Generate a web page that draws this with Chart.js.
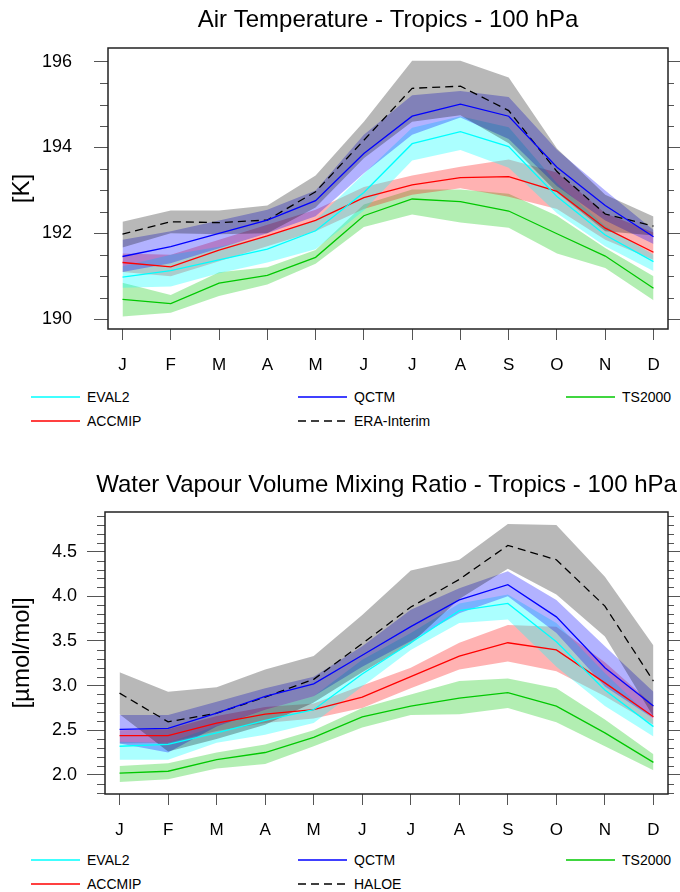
<!DOCTYPE html>
<html>
<head>
<meta charset="utf-8">
<script src="https://cdn.jsdelivr.net/npm/chart.js@4.4.0/dist/chart.umd.min.js"></script>
<style>
  body { margin: 0; background: #fff; width: 680px; height: 892px; position: relative; overflow: hidden;
         font-family: 'Liberation Sans', Arial, sans-serif; }
  canvas { position: absolute; left: 0; }
  .lg { position: absolute; font-size: 14px; line-height: 16px; color: #000; white-space: nowrap; }
  .sw { position: absolute; }
</style>
</head>
<body>
<canvas id="chartT" width="680" height="374" style="top:0"></canvas>
<canvas id="chartW" width="680" height="389" style="top:450px"></canvas>
<div id="legT"></div>
<div id="legW"></div>
<script>
// months / tick labels
var months = ["J", "F", "M", "A", "M", "J", "J", "A", "S", "O", "N", "D"];
var tempTicks = [190, 192, 194, 196];
var h2oTicks = [2.0, 2.5, 3.0, 3.5, 4.0, 4.5];

// Air temperature, 100 hPa [K]
var eval2T    = [190.98, 191.13, 191.38, 191.63, 192.06, 192.95, 194.09, 194.37, 194.02, 192.86, 191.96, 191.34];
var eval2T_hi = [191.23, 191.50, 191.69, 191.92, 192.31, 193.39, 194.46, 194.73, 194.47, 193.17, 192.17, 191.50];
var eval2T_lo = [190.73, 190.76, 191.07, 191.32, 191.63, 192.53, 193.70, 193.94, 193.53, 192.47, 191.70, 191.12];
var qctmT     = [191.46, 191.69, 192.00, 192.31, 192.76, 193.86, 194.73, 195.01, 194.73, 193.54, 192.65, 191.92];
var qctmT_hi  = [191.85, 192.05, 192.30, 192.55, 193.00, 194.30, 195.22, 195.32, 195.18, 193.95, 193.00, 192.08];
var qctmT_lo  = [191.10, 191.30, 191.65, 192.00, 192.40, 193.40, 194.30, 194.70, 194.20, 193.10, 192.30, 191.75];
var tsT       = [190.46, 190.36, 190.84, 191.02, 191.44, 192.41, 192.80, 192.74, 192.52, 191.99, 191.47, 190.72];
var tsT_hi    = [190.85, 190.56, 191.09, 191.21, 191.61, 192.67, 193.02, 193.02, 192.92, 192.41, 191.66, 191.00];
var tsT_lo    = [190.06, 190.15, 190.54, 190.81, 191.29, 192.15, 192.44, 192.25, 192.13, 191.53, 191.19, 190.44];
var accmipT    = [191.32, 191.22, 191.61, 191.94, 192.30, 192.83, 193.13, 193.30, 193.32, 192.98, 192.12, 191.56];
var accmipT_hi = [191.53, 191.50, 191.85, 192.20, 192.55, 193.08, 193.35, 193.55, 193.72, 193.42, 192.47, 192.02];
var accmipT_lo = [191.10, 191.00, 191.35, 191.70, 192.05, 192.57, 192.90, 193.05, 192.85, 192.57, 191.85, 191.38];
var eraT    = [191.98, 192.27, 192.25, 192.31, 192.97, 194.17, 195.38, 195.43, 194.86, 193.44, 192.45, 192.17];
var eraT_hi = [192.27, 192.53, 192.53, 192.65, 193.35, 194.60, 196.02, 196.02, 195.63, 193.98, 192.90, 192.39];
var eraT_lo = [191.67, 192.00, 191.98, 192.00, 192.60, 193.75, 194.60, 194.75, 194.10, 192.95, 192.05, 191.95];

// Water vapour, 100 hPa [umol/mol]
var eval2W    = [2.32, 2.34, 2.47, 2.61, 2.73, 3.13, 3.48, 3.84, 3.92, 3.49, 2.95, 2.54];
var eval2W_hi = [2.37, 2.36, 2.55, 2.73, 2.88, 3.29, 3.59, 3.92, 4.02, 3.70, 3.14, 2.62];
var eval2W_lo = [2.17, 2.17, 2.36, 2.45, 2.58, 2.99, 3.40, 3.70, 3.74, 3.21, 2.77, 2.43];
var qctmW     = [2.51, 2.52, 2.69, 2.88, 3.02, 3.34, 3.66, 3.96, 4.13, 3.77, 3.20, 2.77];
var qctmW_hi  = [2.67, 2.67, 2.82, 2.97, 3.10, 3.44, 3.85, 4.09, 4.28, 3.96, 3.44, 2.93];
var qctmW_lo  = [2.35, 2.25, 2.54, 2.73, 2.88, 3.21, 3.50, 3.81, 4.00, 3.59, 2.99, 2.63];
var tsW       = [2.02, 2.04, 2.17, 2.25, 2.42, 2.65, 2.77, 2.86, 2.92, 2.77, 2.47, 2.14];
var tsW_hi    = [2.10, 2.13, 2.25, 2.34, 2.50, 2.75, 2.90, 3.05, 3.08, 2.97, 2.62, 2.23];
var tsW_lo    = [1.92, 1.95, 2.07, 2.12, 2.32, 2.53, 2.67, 2.68, 2.75, 2.59, 2.32, 2.05];
var accmipW    = [2.44, 2.44, 2.58, 2.68, 2.73, 2.87, 3.10, 3.33, 3.48, 3.40, 3.03, 2.65];
var accmipW_hi = [2.50, 2.51, 2.66, 2.76, 2.80, 3.00, 3.20, 3.48, 3.68, 3.66, 3.26, 2.78];
var accmipW_lo = [2.35, 2.36, 2.49, 2.58, 2.63, 2.75, 2.97, 3.18, 3.27, 3.16, 2.88, 2.56];
var haloeW    = [2.915, 2.594, 2.69, 2.87, 3.07, 3.47, 3.88, 4.19, 4.57, 4.41, 3.89, 3.05];
var haloeW_hi = [3.15, 2.93, 2.98, 3.18, 3.33, 3.79, 4.29, 4.41, 4.81, 4.80, 4.22, 3.45];
var haloeW_lo = [2.68, 2.26, 2.40, 2.56, 2.81, 3.15, 3.47, 3.97, 4.31, 4.02, 3.55, 2.65];

var CYAN = "#00ffff", BLUE = "#0000ff", GREEN = "#00c800", RED = "#ff0000", BLACK = "#000000";
var FONT = "'Liberation Sans', Arial, sans-serif";

function pts(arr) {
    return arr.map(function (v, i) { return { x: i, y: v }; });
}
function band(hi, lo, fillColor) {
    return [
        { data: pts(hi), borderWidth: 0, pointRadius: 0, backgroundColor: fillColor, fill: "+1", order: 5 },
        { data: pts(lo), borderWidth: 0, pointRadius: 0, fill: false, order: 5 },
    ];
}
function line(vals, color, dash) {
    return { data: pts(vals), borderColor: color, borderWidth: 1.3, pointRadius: 0, fill: false,
             borderDash: dash || [], order: 1 };
}

// minor ticks, frame around the plot area, and the title centred on the plot area
var framePlugin = {
    id: "frame",
    afterDraw: function (chart, args, opts) {
        var ctx = chart.ctx, a = chart.chartArea, y = chart.scales.y;
        ctx.save();
        ctx.strokeStyle = "#555";
        ctx.lineWidth = 1;
        opts.minor.forEach(function (v) {
            var py = Math.round(y.getPixelForValue(v)) + 0.5;
            ctx.beginPath();
            ctx.moveTo(a.left - 8, py); ctx.lineTo(a.left, py);
            ctx.moveTo(a.right, py); ctx.lineTo(a.right + 6, py);
            ctx.stroke();
        });
        ctx.strokeStyle = "#222";
        ctx.lineWidth = 1.5;
        ctx.strokeRect(a.left, a.top, a.right - a.left, a.bottom - a.top);

        ctx.fillStyle = "#000";
        ctx.font = "24px " + FONT;
        ctx.textAlign = "center";
        ctx.textBaseline = "middle";
        ctx.fillText(opts.title, (a.left + a.right) / 2, opts.titleY);
        ctx.restore();
    },
};

function makeChart(id, cfg) {
    var yMajor = function (s) { s.ticks = cfg.ticks.map(function (v) { return { value: v }; }); };
    return new Chart(document.getElementById(id), {
        type: "line",
        data: { datasets: cfg.datasets },
        plugins: [framePlugin],
        options: {
            responsive: false,
            animation: false,
            events: [],
            layout: { padding: { top: cfg.top, left: 0, right: 0, bottom: 0 } },
            plugins: {
                legend: { display: false },
                tooltip: { enabled: false },
                title: { display: false },
                filler: { drawTime: "beforeDatasetsDraw" },
                frame: { minor: cfg.minor, title: cfg.title, titleY: cfg.titleY },
            },
            scales: {
                x: {
                    type: "linear", min: -0.3, max: 11.3,
                    afterBuildTicks: function (s) { s.ticks = months.map(function (m, i) { return { value: i }; }); },
                    afterFit: function (s) { s.height = 45; },
                    ticks: {
                        autoSkip: false, maxRotation: 0, padding: 15, color: "#000",
                        font: { family: FONT, size: 17 },
                        callback: function (v) { return months[v]; },
                    },
                    grid: { drawOnChartArea: false, drawTicks: true, tickLength: 11, color: "#555" },
                    border: { display: false },
                },
                y: {
                    type: "linear", position: "left", min: cfg.min, max: cfg.max,
                    afterBuildTicks: yMajor,
                    afterFit: function (s) { s.width = cfg.left; },
                    ticks: {
                        padding: cfg.labelPad, color: "#000",
                        font: { family: "'Liberation Sans Narrow', 'Liberation Sans', Arial, sans-serif", size: 18 },
                        callback: cfg.fmt,
                    },
                    grid: { drawOnChartArea: false, drawTicks: true, tickLength: cfg.majorLen, color: "#555" },
                    border: { display: false },
                    title: {
                        display: true, text: cfg.ytitle, color: "#000",
                        font: { family: FONT, size: 24 }, padding: { top: 8, bottom: 0 },
                    },
                },
                y2: {
                    type: "linear", position: "right", min: cfg.min, max: cfg.max,
                    afterBuildTicks: yMajor,
                    afterFit: function (s) { s.width = 12; },
                    ticks: { display: false },
                    grid: { drawOnChartArea: false, drawTicks: true, tickLength: 12, color: "#555" },
                    border: { display: false },
                },
            },
        },
    });
}

function minorList(lo, hi, step, majors) {
    var out = [];
    for (var v = lo; v <= hi + 1e-9; v += step) {
        var r = Math.round(v * 100) / 100;
        if (majors.indexOf(r) < 0) out.push(r);
    }
    return out;
}

makeChart("chartT", {
    title: "Air Temperature - Tropics - 100 hPa",
    titleY: 20, top: 48,
    ytitle: "[K]",
    min: 189.77, max: 196.32, left: 108,
    ticks: tempTicks, majorLen: 14, labelPad: 22,
    minor: minorList(190, 196, 0.5, tempTicks),
    fmt: function (v) { return String(v); },
    datasets: [
        line(eval2T, CYAN), line(accmipT, RED), line(qctmT, BLUE), line(tsT, GREEN), line(eraT, BLACK, [8, 5]),
    ].concat(
        band(eraT_hi, eraT_lo, "rgba(0,0,0,0.28)"),
        band(qctmT_hi, qctmT_lo, "rgba(0,0,255,0.3)"),
        band(eval2T_hi, eval2T_lo, "rgba(0,255,255,0.33)"),
        band(accmipT_hi, accmipT_lo, "rgba(255,0,0,0.3)"),
        band(tsT_hi, tsT_lo, "rgba(0,200,0,0.3)")
    ),
});

makeChart("chartW", {
    title: "Water Vapour Volume Mixing Ratio - Tropics - 100 hPa",
    titleY: 35, top: 62,
    ytitle: "[\u00b5mol/mol]",
    min: 1.785, max: 4.945, left: 105,
    ticks: h2oTicks, majorLen: 18, labelPad: 10,
    minor: minorList(1.8, 4.9, 0.1, h2oTicks),
    fmt: function (v) { return v.toFixed(1); },
    datasets: [
        line(eval2W, CYAN), line(accmipW, RED), line(qctmW, BLUE), line(tsW, GREEN), line(haloeW, BLACK, [8, 5]),
    ].concat(
        band(haloeW_hi, haloeW_lo, "rgba(0,0,0,0.28)"),
        band(qctmW_hi, qctmW_lo, "rgba(0,0,255,0.3)"),
        band(eval2W_hi, eval2W_lo, "rgba(0,255,255,0.33)"),
        band(accmipW_hi, accmipW_lo, "rgba(255,0,0,0.3)"),
        band(tsW_hi, tsW_lo, "rgba(0,200,0,0.3)")
    ),
});

// legends (3 columns x 2 rows, as in the figure)
function legend(id, row1, refName) {
    var items = [
        { name: "EVAL2", color: CYAN, col: 0, row: 0 },
        { name: "QCTM", color: BLUE, col: 1, row: 0 },
        { name: "TS2000", color: GREEN, col: 2, row: 0 },
        { name: "ACCMIP", color: RED, col: 0, row: 1 },
        { name: refName, color: BLACK, col: 1, row: 1, dash: true },
    ];
    var colX = [31, 298, 566];
    var html = "";
    items.forEach(function (it) {
        var y = row1 + it.row * 24;
        var x = colX[it.col];
        html += '<svg class="sw" width="50" height="4" style="left:' + x + 'px;top:' + (y - 2) + 'px">' +
            '<line x1="0" y1="2" x2="49" y2="2" stroke="' + it.color + '" stroke-width="1.6"' +
            (it.dash ? ' stroke-dasharray="8,5"' : "") + "/></svg>";
        html += '<div class="lg" style="left:' + (x + 56) + 'px;top:' + (y - 8) + 'px">' + it.name + "</div>";
    });
    document.getElementById(id).innerHTML = html;
}
legend("legT", 397, "ERA-Interim");
legend("legW", 860, "HALOE");
</script>
</body>
</html>
